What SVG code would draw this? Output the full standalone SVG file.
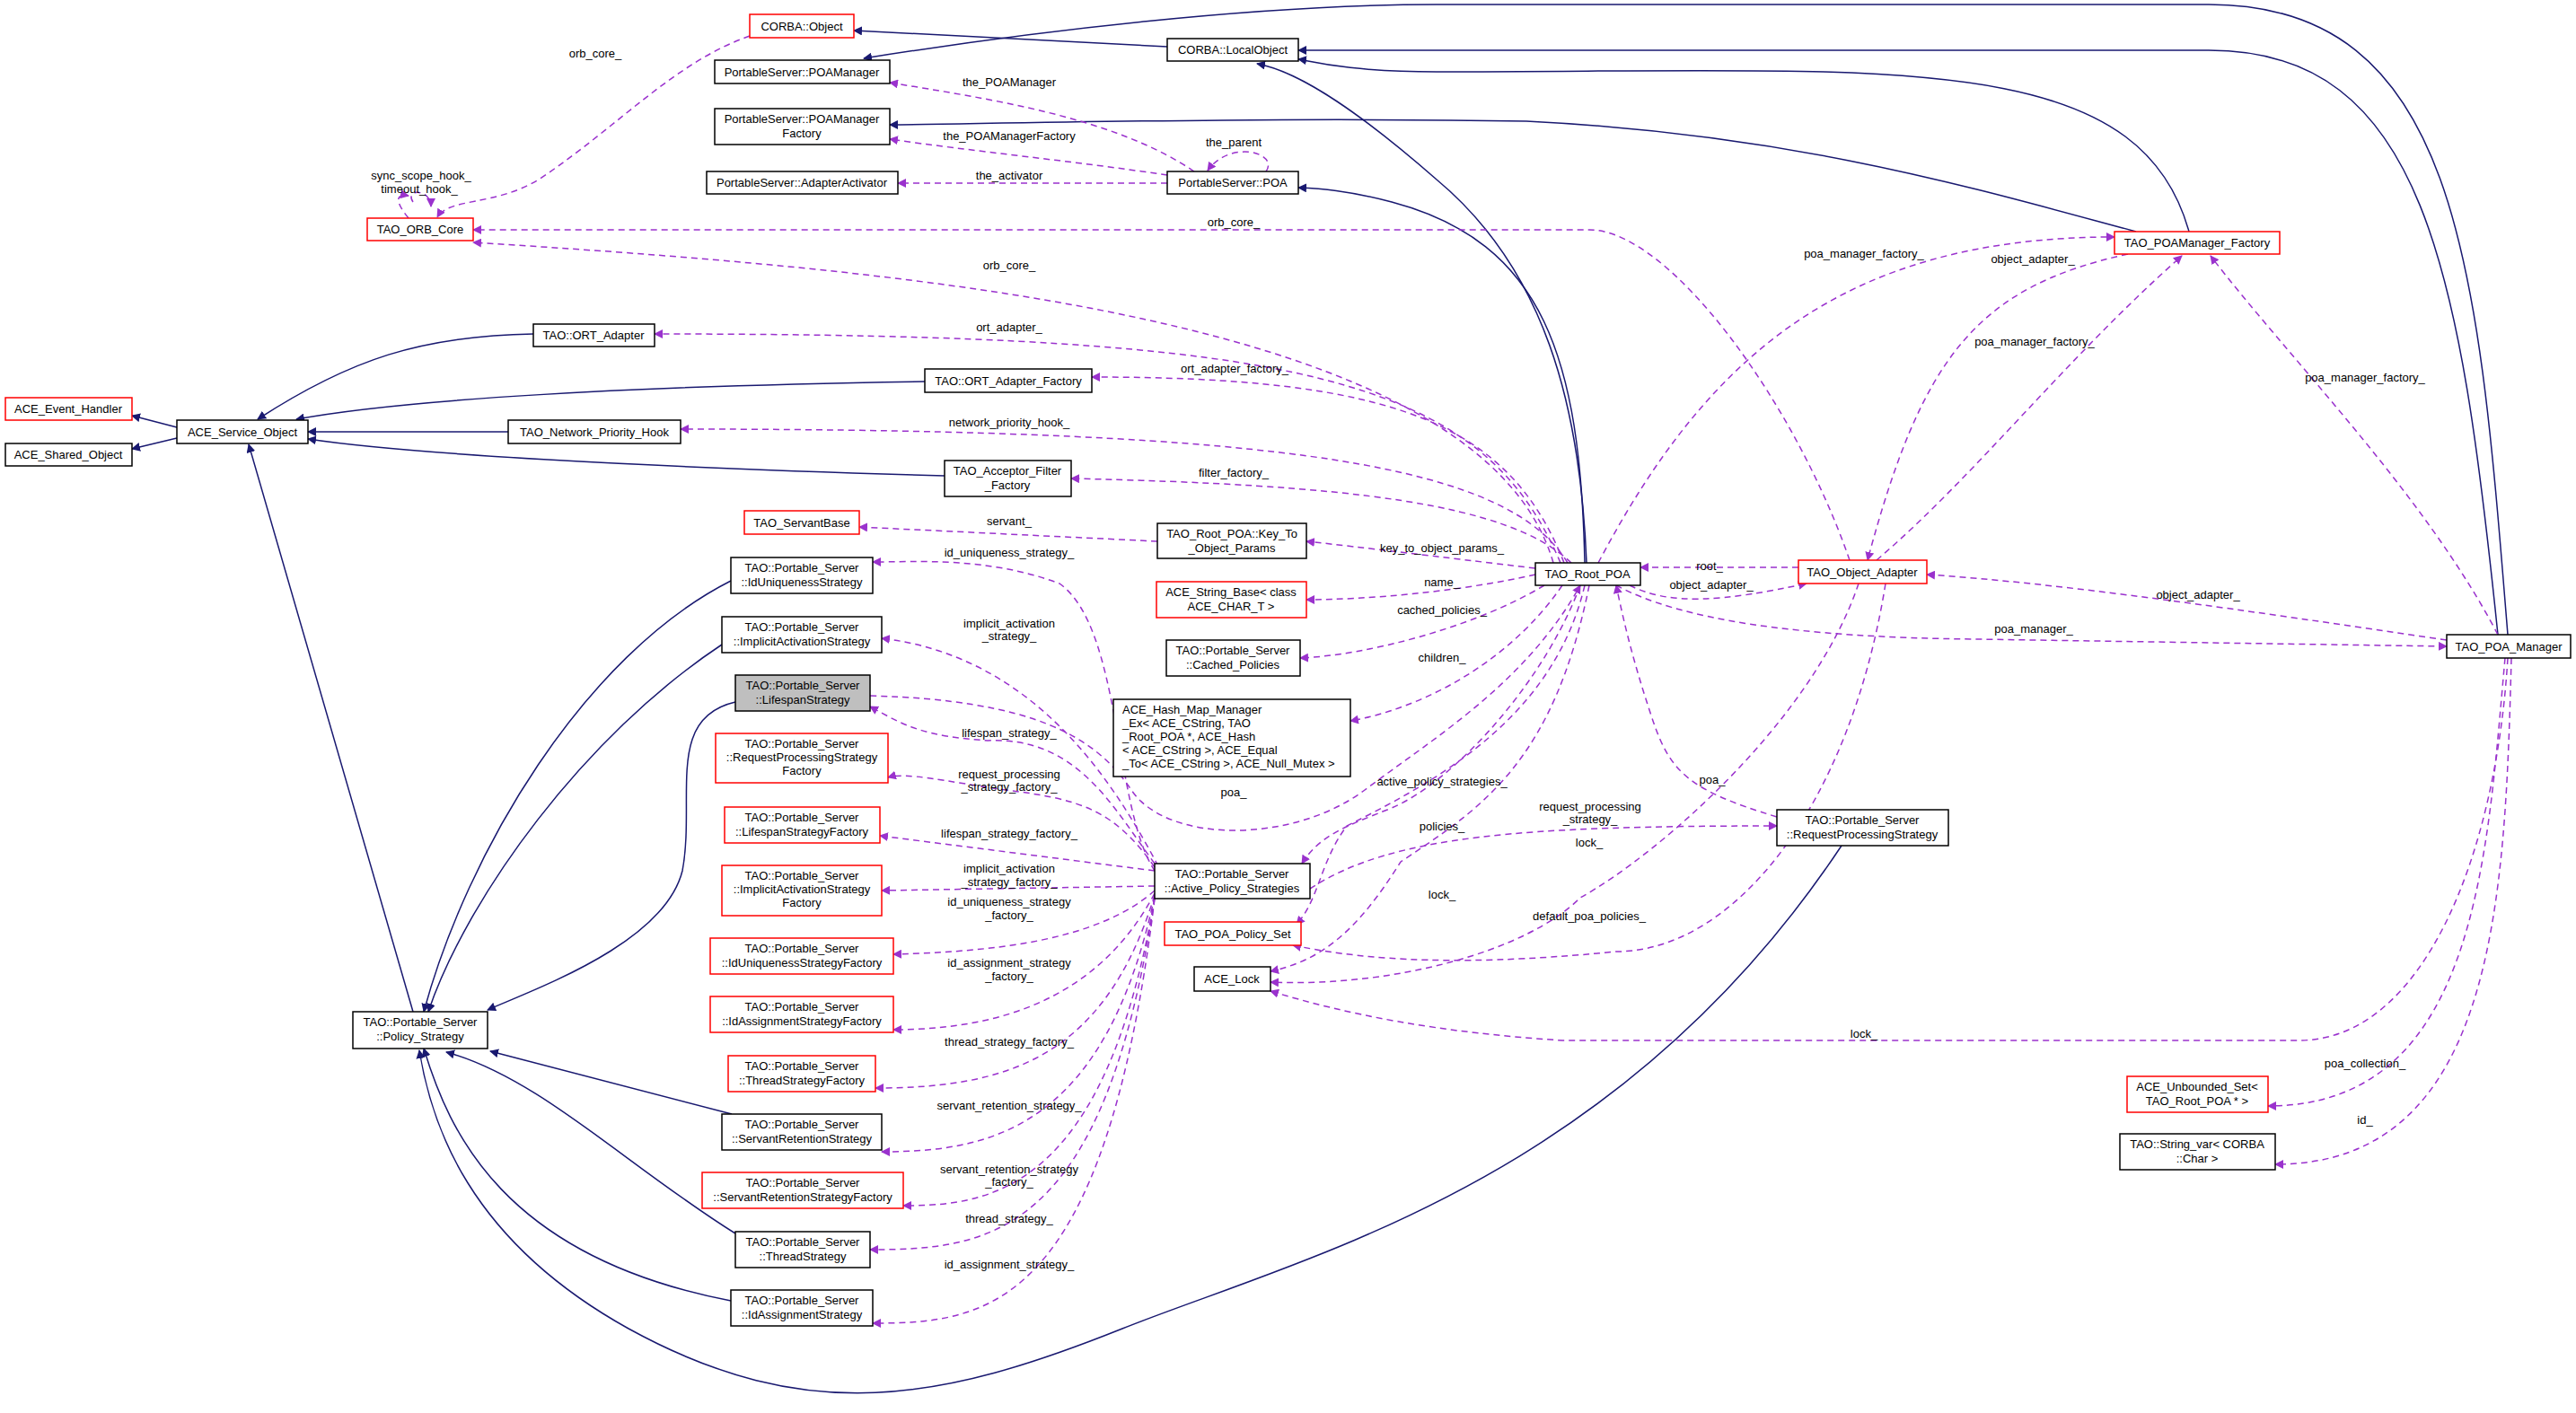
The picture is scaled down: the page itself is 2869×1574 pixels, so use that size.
<svg xmlns="http://www.w3.org/2000/svg" width="2869" height="1574" viewBox="0 0 2869 1574">
<style>
.n rect{fill:#fff;stroke:#000;stroke-width:1.5}
.n.r rect{stroke:#f00}
.n.g rect{fill:#bfbfbf}
text{font-family:"Liberation Sans",Arial,sans-serif;font-size:13px;fill:#000}
.n text{text-anchor:middle}
.lb{text-anchor:middle}
.i{fill:none;stroke:#191970;stroke-width:1.5;marker-end:url(#ai)}
.d{fill:none;stroke:#9a32cd;stroke-width:1.5;stroke-dasharray:7,5;marker-end:url(#ad)}
</style>
<defs>
<marker id="ai" viewBox="0 0 10 10" refX="9" refY="5" markerWidth="10" markerHeight="10" markerUnits="userSpaceOnUse" orient="auto"><path d="M0,0L10,5L0,10z" fill="#191970"/></marker>
<marker id="ad" viewBox="0 0 10 10" refX="9" refY="5" markerWidth="10" markerHeight="10" markerUnits="userSpaceOnUse" orient="auto"><path d="M0,0L10,5L0,10z" fill="#9a32cd"/></marker>
</defs>
<rect width="2869" height="1574" fill="#fff"/>
<g id="edges">
<path class="i" d="M197,476L147,463"/>
<path class="i" d="M197,488L147,500"/>
<path class="i" d="M594,372C470,374 390,400 287,467"/>
<path class="i" d="M1030,425C700,430 450,445 330,467"/>
<path class="i" d="M566,481L343,481"/>
<path class="i" d="M1052,530C700,520 450,505 343,489"/>
<path class="i" d="M460,1127L277,495"/>
<path class="i" d="M814,647C650,730 520,950 472,1127"/>
<path class="i" d="M804,718C650,820 520,1000 477,1127"/>
<path class="i" d="M819,782C740,800 775,890 760,970C740,1050 600,1100 543,1125"/>
<path class="i" d="M815,1241L546,1171"/>
<path class="i" d="M819,1374C700,1300 600,1200 497,1172"/>
<path class="i" d="M814,1449C560,1400 500,1260 472,1168"/>
<path class="i" d="M2051,942C1800,1320 1450,1400 1250,1480C1050,1560 900,1590 700,1480C520,1380 480,1250 467,1170"/>
<path class="i" d="M1767,627C1760,450 1720,300 1600,200C1520,130 1450,80 1400,71"/>
<path class="i" d="M1765,627C1760,400 1720,270 1550,225C1500,212 1470,210 1446,209"/>
<path class="i" d="M2379,258C2200,210 2000,150 1700,135C1400,130 1100,138 991,139"/>
<path class="i" d="M2438,258C2380,50 2100,80 1600,80C1500,80 1460,68 1446,66"/>
<path class="i" d="M2782,707C2740,300 2700,56 2460,56L1446,56"/>
<path class="i" d="M2793,707C2760,300 2740,5 2460,5L1600,5C1400,5 1150,35 962,65"/>
<path class="i" d="M1300,52L951,34"/>
<path class="d" d="M835,40C750,70 690,140 600,200C550,230 500,220 487,242"/>
<path class="d" d="M460,225C450,210 480,210 480,230"/>
<path class="d" d="M455,243C440,225 440,215 455,218"/>
<path class="d" d="M1330,191C1240,130 1100,110 991,92"/>
<path class="d" d="M1300,195C1200,180 1080,168 991,155"/>
<path class="d" d="M1410,191C1425,170 1370,155 1345,190"/>
<path class="d" d="M1300,204L1000,204"/>
<path class="d" d="M2060,624C2000,450 1860,256 1770,256L527,256"/>
<path class="d" d="M1730,627C1650,350 1000,300 527,270"/>
<path class="d" d="M1738,627C1650,420 1450,372 729,372"/>
<path class="d" d="M1742,627C1680,470 1550,420 1216,420"/>
<path class="d" d="M1746,627C1680,520 1450,478 758,478"/>
<path class="d" d="M1750,627C1680,560 1500,540 1193,533"/>
<path class="d" d="M1289,603L957,587"/>
<path class="d" d="M1710,633C1600,620 1520,610 1455,603"/>
<path class="d" d="M1710,640C1620,660 1520,668 1455,668"/>
<path class="d" d="M1720,652C1640,700 1520,730 1448,733"/>
<path class="d" d="M1740,652C1680,740 1580,790 1504,803"/>
<path class="d" d="M1286,970C1240,900 1250,700 1180,650C1100,620 1020,626 972,626"/>
<path class="d" d="M1290,965C1230,850 1140,730 982,711"/>
<path class="d" d="M1286,962C1240,900 1200,820 1100,825C1030,820 1010,810 969,787"/>
<path class="d" d="M1286,966C1240,900 1200,890 1120,880C1050,870 1010,860 989,866"/>
<path class="d" d="M1286,970L980,931"/>
<path class="d" d="M1286,987L982,992"/>
<path class="d" d="M1286,992C1220,1050 1100,1060 995,1063"/>
<path class="d" d="M1286,995C1220,1120 1100,1147 995,1147"/>
<path class="d" d="M1286,997C1230,1180 1120,1212 975,1212"/>
<path class="d" d="M1286,998C1230,1260 1100,1283 982,1283"/>
<path class="d" d="M1286,1000C1230,1330 1100,1343 1006,1343"/>
<path class="d" d="M1286,1000C1230,1380 1100,1392 969,1392"/>
<path class="d" d="M1286,1001C1230,1460 1100,1474 972,1474"/>
<path class="d" d="M969,775C1150,780 1220,820 1260,880C1300,940 1440,940 1520,880C1600,820 1700,760 1760,652"/>
<path class="d" d="M1760,652C1720,760 1620,870 1550,900C1500,920 1470,930 1450,962"/>
<path class="d" d="M1765,652C1730,800 1600,870 1500,920C1470,960 1470,1000 1444,1030"/>
<path class="d" d="M1770,652C1730,850 1650,900 1560,960C1510,1040 1470,1070 1415,1082"/>
<path class="d" d="M1459,990C1550,930 1700,920 1979,920"/>
<path class="d" d="M1979,910C1880,880 1860,860 1840,800C1820,740 1810,700 1800,652"/>
<path class="d" d="M2070,650C2020,800 1850,950 1760,1000C1700,1060 1550,1100 1415,1094"/>
<path class="d" d="M2100,650C2060,900 1930,1060 1800,1060C1600,1080 1500,1065 1440,1053"/>
<path class="d" d="M2793,733C2780,950 2700,1159 2560,1159L1740,1159C1600,1150 1500,1130 1415,1104"/>
<path class="d" d="M2003,632L1827,632"/>
<path class="d" d="M1815,652C1860,675 1920,670 2012,650"/>
<path class="d" d="M2725,713C2500,680 2300,650 2146,640"/>
<path class="d" d="M1800,652C1870,690 2000,710 2200,712L2725,720"/>
<path class="d" d="M1780,627C1900,400 2050,264 2355,264"/>
<path class="d" d="M2370,283C2200,320 2140,400 2080,624"/>
<path class="d" d="M2090,624C2200,530 2300,400 2430,285"/>
<path class="d" d="M2782,707C2700,550 2550,400 2462,285"/>
<path class="d" d="M2790,733C2770,950 2760,1232 2526,1232"/>
<path class="d" d="M2797,733C2790,1000 2780,1297 2534,1297"/>
</g>
<g id="labels">
<text class="lb" x="663" y="64">orb_core_</text>
<text class="lb" x="1124" y="96">the_POAManager</text>
<text class="lb" x="1124" y="156">the_POAManagerFactory</text>
<text class="lb" x="1374" y="163">the_parent</text>
<text class="lb" x="469" y="200">sync_scope_hook_</text>
<text class="lb" x="467" y="215">timeout_hook_</text>
<text class="lb" x="1124" y="200">the_activator</text>
<text class="lb" x="1374" y="252">orb_core_</text>
<text class="lb" x="1124" y="300">orb_core_</text>
<text class="lb" x="1124" y="369">ort_adapter_</text>
<text class="lb" x="1375" y="415">ort_adapter_factory_</text>
<text class="lb" x="1124" y="475">network_priority_hook_</text>
<text class="lb" x="1374" y="531">filter_factory_</text>
<text class="lb" x="1124" y="585">servant_</text>
<text class="lb" x="1124" y="620">id_uniqueness_strategy_</text>
<text class="lb" x="1124" y="699">implicit_activation</text>
<text class="lb" x="1124" y="713">_strategy_</text>
<text class="lb" x="1124" y="821">lifespan_strategy_</text>
<text class="lb" x="1374" y="887">poa_</text>
<text class="lb" x="1124" y="867">request_processing</text>
<text class="lb" x="1124" y="881">_strategy_factory_</text>
<text class="lb" x="1124" y="933">lifespan_strategy_factory_</text>
<text class="lb" x="1124" y="972">implicit_activation</text>
<text class="lb" x="1124" y="987">_strategy_factory_</text>
<text class="lb" x="1124" y="1009">id_uniqueness_strategy</text>
<text class="lb" x="1124" y="1024">_factory_</text>
<text class="lb" x="1124" y="1077">id_assignment_strategy</text>
<text class="lb" x="1124" y="1092">_factory_</text>
<text class="lb" x="1124" y="1165">thread_strategy_factory_</text>
<text class="lb" x="1124" y="1236">servant_retention_strategy_</text>
<text class="lb" x="1124" y="1307">servant_retention_strategy</text>
<text class="lb" x="1124" y="1321">_factory_</text>
<text class="lb" x="1124" y="1362">thread_strategy_</text>
<text class="lb" x="1124" y="1413">id_assignment_strategy_</text>
<text class="lb" x="2076" y="287">poa_manager_factory_</text>
<text class="lb" x="2264" y="293">object_adapter_</text>
<text class="lb" x="2266" y="385">poa_manager_factory_</text>
<text class="lb" x="2634" y="425">poa_manager_factory_</text>
<text class="lb" x="1606" y="615">key_to_object_params_</text>
<text class="lb" x="1904" y="635">root_</text>
<text class="lb" x="1906" y="656">object_adapter_</text>
<text class="lb" x="1606" y="653">name_</text>
<text class="lb" x="2448" y="667">object_adapter_</text>
<text class="lb" x="1606" y="684">cached_policies_</text>
<text class="lb" x="2265" y="705">poa_manager_</text>
<text class="lb" x="1606" y="737">children_</text>
<text class="lb" x="1606" y="875">active_policy_strategies_</text>
<text class="lb" x="1907" y="873">poa_</text>
<text class="lb" x="1771" y="903">request_processing</text>
<text class="lb" x="1771" y="917">_strategy_</text>
<text class="lb" x="1606" y="925">policies_</text>
<text class="lb" x="1770" y="943">lock_</text>
<text class="lb" x="1606" y="1001">lock_</text>
<text class="lb" x="1770" y="1025">default_poa_policies_</text>
<text class="lb" x="2076" y="1156">lock_</text>
<text class="lb" x="2634" y="1189">poa_collection_</text>
<text class="lb" x="2634" y="1252">id_</text>
</g>
<g id="CORBA_Object" class="n r"><rect x="835" y="16" width="116" height="26"/><text x="893" y="34">CORBA::Object</text></g>
<g id="POAManager" class="n"><rect x="796" y="67" width="195" height="26"/><text x="893" y="85">PortableServer::POAManager</text></g>
<g id="POAManagerFactory" class="n"><rect x="796" y="121" width="195" height="40"/><text x="893" y="137">PortableServer::POAManager</text><text x="893" y="153">Factory</text></g>
<g id="AdapterActivator" class="n"><rect x="787" y="191" width="213" height="25"/><text x="893" y="208">PortableServer::AdapterActivator</text></g>
<g id="TAO_ORB_Core" class="n r"><rect x="409" y="243" width="118" height="25"/><text x="468" y="260">TAO_ORB_Core</text></g>
<g id="LocalObject" class="n"><rect x="1300" y="43" width="146" height="25"/><text x="1373" y="60">CORBA::LocalObject</text></g>
<g id="POA" class="n"><rect x="1300" y="191" width="146" height="25"/><text x="1373" y="208">PortableServer::POA</text></g>
<g id="ORT_Adapter" class="n"><rect x="594" y="361" width="135" height="25"/><text x="661" y="378">TAO::ORT_Adapter</text></g>
<g id="ORT_Adapter_Factory" class="n"><rect x="1030" y="411" width="186" height="26"/><text x="1123" y="429">TAO::ORT_Adapter_Factory</text></g>
<g id="ACE_Event_Handler" class="n r"><rect x="6" y="443" width="141" height="25"/><text x="76" y="460">ACE_Event_Handler</text></g>
<g id="ACE_Service_Object" class="n"><rect x="197" y="468" width="146" height="26"/><text x="270" y="486">ACE_Service_Object</text></g>
<g id="ACE_Shared_Object" class="n"><rect x="6" y="494" width="141" height="25"/><text x="76" y="511">ACE_Shared_Object</text></g>
<g id="Network_Priority_Hook" class="n"><rect x="566" y="468" width="192" height="26"/><text x="662" y="486">TAO_Network_Priority_Hook</text></g>
<g id="Acceptor_Filter_Factory" class="n"><rect x="1052" y="513" width="141" height="40"/><text x="1122" y="529">TAO_Acceptor_Filter</text><text x="1122" y="545">_Factory</text></g>
<g id="ServantBase" class="n r"><rect x="829" y="569" width="128" height="26"/><text x="893" y="587">TAO_ServantBase</text></g>
<g id="Key_To_Object_Params" class="n"><rect x="1289" y="583" width="166" height="39"/><text x="1372" y="599">TAO_Root_POA::Key_To</text><text x="1372" y="615">_Object_Params</text></g>
<g id="IdUniquenessStrategy" class="n"><rect x="814" y="621" width="158" height="40"/><text x="893" y="637">TAO::Portable_Server</text><text x="893" y="653">::IdUniquenessStrategy</text></g>
<g id="String_Base" class="n r"><rect x="1288" y="648" width="167" height="40"/><text x="1371" y="664">ACE_String_Base&lt; class</text><text x="1371" y="680">ACE_CHAR_T &gt;</text></g>
<g id="ImplicitActivationStrategy" class="n"><rect x="804" y="687" width="178" height="40"/><text x="893" y="703">TAO::Portable_Server</text><text x="893" y="719">::ImplicitActivationStrategy</text></g>
<g id="Cached_Policies" class="n"><rect x="1299" y="713" width="149" height="40"/><text x="1373" y="729">TAO::Portable_Server</text><text x="1373" y="745">::Cached_Policies</text></g>
<g id="LifespanStrategy" class="n g"><rect x="819" y="752" width="150" height="40"/><text x="894" y="768">TAO::Portable_Server</text><text x="894" y="784">::LifespanStrategy</text></g>
<g id="Hash_Map_Manager" class="n"><rect x="1240" y="779" width="264" height="86"/><text x="1250" y="795" style="text-anchor:start">ACE_Hash_Map_Manager</text><text x="1250" y="810" style="text-anchor:start">_Ex&lt; ACE_CString, TAO</text><text x="1250" y="825" style="text-anchor:start">_Root_POA *, ACE_Hash</text><text x="1250" y="840" style="text-anchor:start">&lt; ACE_CString &gt;, ACE_Equal</text><text x="1250" y="855" style="text-anchor:start">_To&lt; ACE_CString &gt;, ACE_Null_Mutex &gt;</text></g>
<g id="RPSFactory" class="n r"><rect x="797" y="817" width="192" height="55"/><text x="893" y="833">TAO::Portable_Server</text><text x="893" y="848">::RequestProcessingStrategy</text><text x="893" y="863">Factory</text></g>
<g id="LifespanStrategyFactory" class="n r"><rect x="807" y="899" width="173" height="40"/><text x="893" y="915">TAO::Portable_Server</text><text x="893" y="931">::LifespanStrategyFactory</text></g>
<g id="ImplicitActivationStrategyFactory" class="n r"><rect x="804" y="964" width="178" height="56"/><text x="893" y="980">TAO::Portable_Server</text><text x="893" y="995">::ImplicitActivationStrategy</text><text x="893" y="1010">Factory</text></g>
<g id="IdUniquenessStrategyFactory" class="n r"><rect x="791" y="1045" width="204" height="40"/><text x="893" y="1061">TAO::Portable_Server</text><text x="893" y="1077">::IdUniquenessStrategyFactory</text></g>
<g id="IdAssignmentStrategyFactory" class="n r"><rect x="791" y="1110" width="204" height="40"/><text x="893" y="1126">TAO::Portable_Server</text><text x="893" y="1142">::IdAssignmentStrategyFactory</text></g>
<g id="ThreadStrategyFactory" class="n r"><rect x="811" y="1176" width="164" height="40"/><text x="893" y="1192">TAO::Portable_Server</text><text x="893" y="1208">::ThreadStrategyFactory</text></g>
<g id="ServantRetentionStrategy" class="n"><rect x="804" y="1241" width="178" height="40"/><text x="893" y="1257">TAO::Portable_Server</text><text x="893" y="1273">::ServantRetentionStrategy</text></g>
<g id="ServantRetentionStrategyFactory" class="n r"><rect x="782" y="1306" width="224" height="40"/><text x="894" y="1322">TAO::Portable_Server</text><text x="894" y="1338">::ServantRetentionStrategyFactory</text></g>
<g id="ThreadStrategy" class="n"><rect x="819" y="1372" width="150" height="40"/><text x="894" y="1388">TAO::Portable_Server</text><text x="894" y="1404">::ThreadStrategy</text></g>
<g id="IdAssignmentStrategy" class="n"><rect x="814" y="1437" width="158" height="40"/><text x="893" y="1453">TAO::Portable_Server</text><text x="893" y="1469">::IdAssignmentStrategy</text></g>
<g id="Policy_Strategy" class="n"><rect x="393" y="1127" width="150" height="41"/><text x="468" y="1143">TAO::Portable_Server</text><text x="468" y="1159">::Policy_Strategy</text></g>
<g id="Active_Policy_Strategies" class="n"><rect x="1286" y="962" width="173" height="39"/><text x="1372" y="978">TAO::Portable_Server</text><text x="1372" y="994">::Active_Policy_Strategies</text></g>
<g id="POA_Policy_Set" class="n r"><rect x="1297" y="1027" width="152" height="26"/><text x="1373" y="1045">TAO_POA_Policy_Set</text></g>
<g id="ACE_Lock" class="n"><rect x="1330" y="1077" width="85" height="27"/><text x="1372" y="1095">ACE_Lock</text></g>
<g id="TAO_POAManager_Factory" class="n r"><rect x="2355" y="258" width="184" height="25"/><text x="2447" y="275">TAO_POAManager_Factory</text></g>
<g id="TAO_Root_POA" class="n"><rect x="1710" y="627" width="117" height="25"/><text x="1768" y="644">TAO_Root_POA</text></g>
<g id="TAO_Object_Adapter" class="n r"><rect x="2003" y="624" width="143" height="26"/><text x="2074" y="642">TAO_Object_Adapter</text></g>
<g id="TAO_POA_Manager" class="n"><rect x="2725" y="707" width="138" height="26"/><text x="2794" y="725">TAO_POA_Manager</text></g>
<g id="RequestProcessingStrategy" class="n"><rect x="1979" y="902" width="191" height="40"/><text x="2074" y="918">TAO::Portable_Server</text><text x="2074" y="934">::RequestProcessingStrategy</text></g>
<g id="Unbounded_Set" class="n r"><rect x="2369" y="1199" width="157" height="40"/><text x="2447" y="1215">ACE_Unbounded_Set&lt;</text><text x="2447" y="1231">TAO_Root_POA * &gt;</text></g>
<g id="String_var" class="n"><rect x="2361" y="1263" width="173" height="40"/><text x="2447" y="1279">TAO::String_var&lt; CORBA</text><text x="2447" y="1295">::Char &gt;</text></g>
</svg>
